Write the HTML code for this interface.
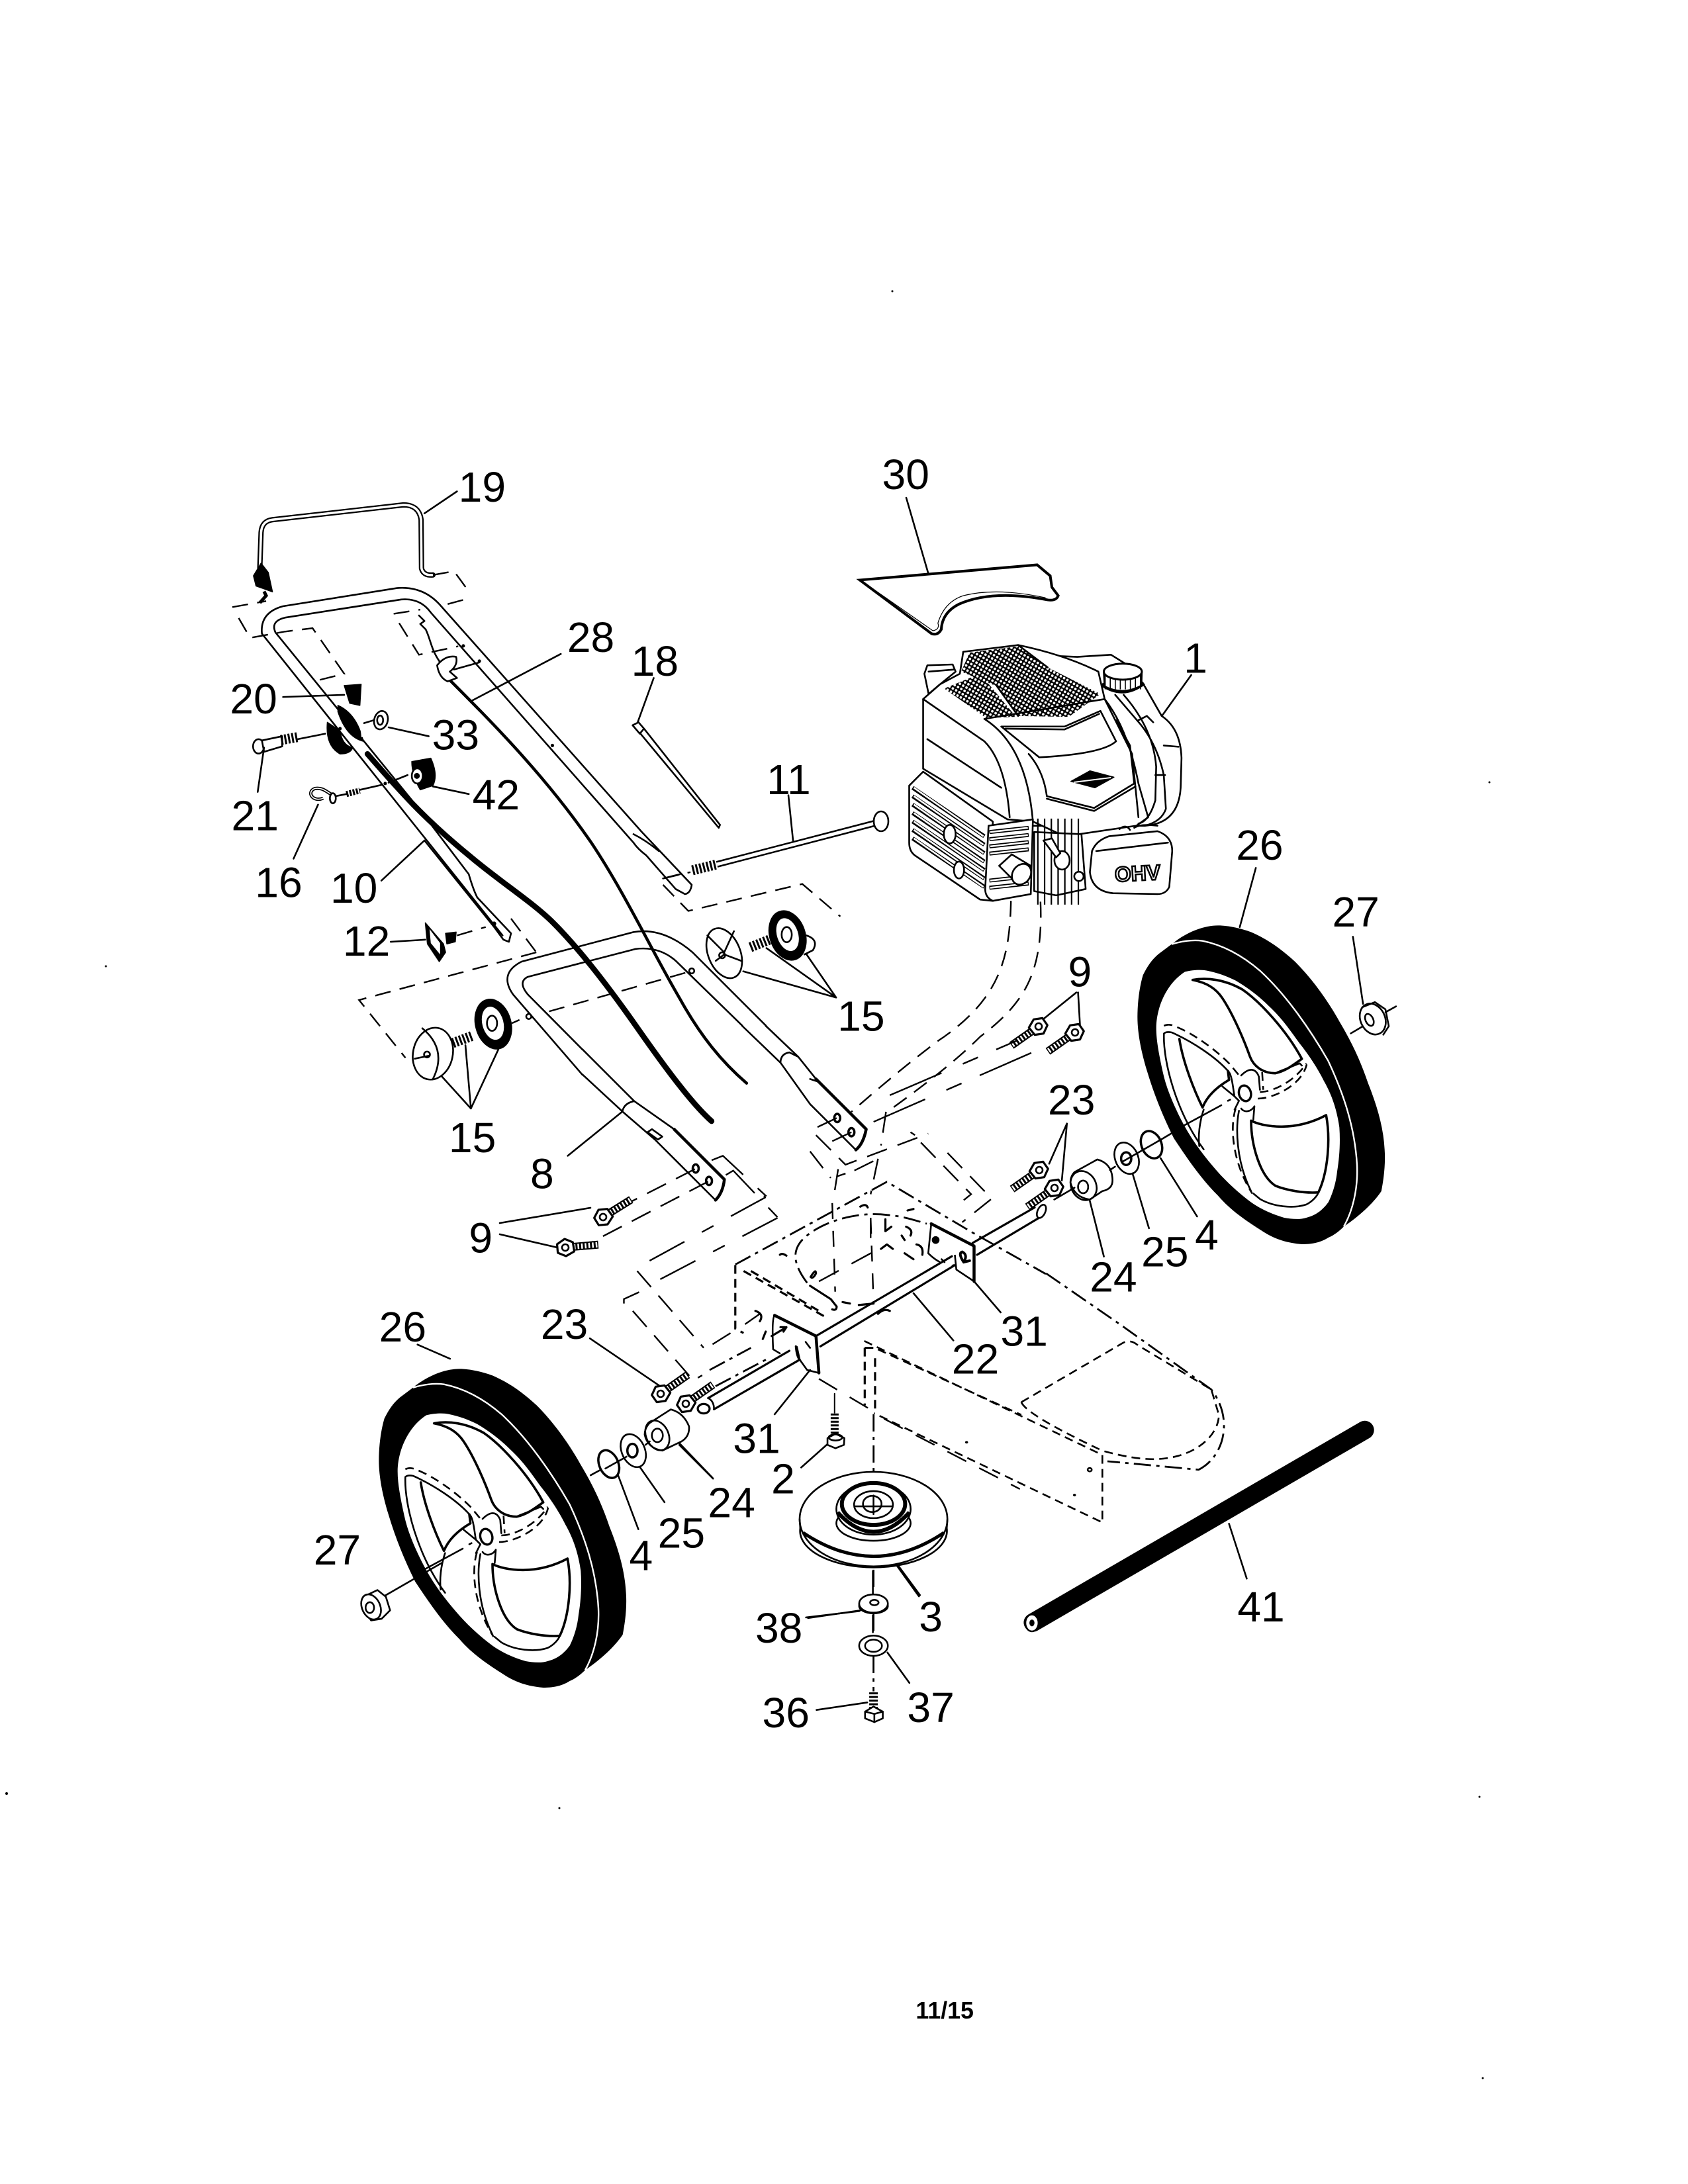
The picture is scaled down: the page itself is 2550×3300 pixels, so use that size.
<!DOCTYPE html>
<html><head><meta charset="utf-8"><title>Parts diagram</title>
<style>
html,body{margin:0;padding:0;background:#fff;width:2550px;height:3300px;overflow:hidden}
svg{display:block}
svg *{vector-effect:non-scaling-stroke}
.k{fill:none;stroke:#000;stroke-width:2.6;stroke-linecap:round;stroke-linejoin:round}
.w{fill:#fff;stroke:#000;stroke-width:2.6;stroke-linejoin:round}
.b{fill:#000;stroke:#000;stroke-width:1.5;stroke-linejoin:round}
.t{fill:none;stroke:#000;stroke-width:4.5;stroke-linecap:round;stroke-linejoin:round}
.d{fill:none;stroke:#000;stroke-width:2.4;stroke-dasharray:32 17}
.dd{fill:none;stroke:#000;stroke-width:2.8;stroke-dasharray:26 8 5 8}
.s{fill:none;stroke:#000;stroke-width:2.6;stroke-dasharray:13 8}
.lab{font-family:"Liberation Sans",Arial,sans-serif;font-size:30.5px;text-anchor:middle;fill:#000}
</style></head><body>
<svg xmlns="http://www.w3.org/2000/svg" width="2550" height="3300" viewBox="0 0 2550 3300">
<defs>
<pattern id="mesh" width="9" height="9" patternUnits="userSpaceOnUse" patternTransform="rotate(30)">
<rect width="9" height="9" fill="#000"/><circle cx="4.5" cy="4.5" r="3" fill="#fff"/></pattern>
<g id="bolt">
<line x1="12" y1="0" x2="50" y2="0" stroke="#000" stroke-width="12"/>
<line x1="13" y1="0" x2="50" y2="0" stroke="#fff" stroke-width="8" stroke-dasharray="2.5 3"/>
<polygon points="-12,-6 0,-13 12,-7 13,7 0,13 -12,7" class="w" style="stroke-width:3.2"/>
<circle r="5" class="k"/>
</g>
</defs>
<rect width="2550" height="3300" fill="#fff"/>

<!-- ===== A: upper handle region ===== -->
<g transform="translate(300,680) scale(.6378)">
<!-- bail 19 -->
<path d="M145,280 L148,195 Q150,168 175,165 L485,130 Q522,130 527,165 L528,280 Q532,298 555,296" fill="none" stroke="#000" stroke-width="8" stroke-linecap="round"/>
<path d="M145,280 L148,195 Q150,168 175,165 L485,130 Q522,130 527,165 L528,280 Q532,298 555,296" fill="none" stroke="#fff" stroke-width="3.5"/>
<polygon points="148,268 130,298 136,322 175,336 165,290" class="b"/>
<path d="M155,335 L160,345 L145,362" fill="none" stroke="#000" stroke-width="5"/>
<!-- dashed boxes -->
<path class="d" style="stroke-dasharray:24 14" d="M80,372 L160,358 M95,398 L122,445 L205,430 L270,422 L345,530 L285,545 M555,296 L605,287 L640,335 M590,365 L645,350 M462,388 L525,378 M475,410 L522,485 L615,465"/>
<path class="d" style="stroke-dasharray:24 14" d="M740,1110 L800,1190 M800,1190 L380,1303 L490,1440 M1100,1015 L1165,1000 M1100,1030 L1160,1092 L1430,1028 L1520,1105 M830,1330 L1165,1235"/>
<!-- upper handle tube -->
<path class="k" d="M720,1150 L150,435 Q145,385 200,370 L470,327 Q530,322 570,365 L1050,905 L1168,1030 Q1165,1050 1152,1052 L1130,1040 L1060,960 Q1040,945 1030,930 L550,385 Q525,350 480,354 L205,397 Q170,405 182,432 L530,860 L640,1005 Q650,1040 660,1060 L740,1145 L735,1165 L722,1160 L700,1130 L535,925"/>
<path class="k" d="M1030,910 Q1060,925 1090,950 M1100,1015 L1140,1005"/>
<circle cx="335" cy="660" r="4" fill="#000"/><circle cx="442" cy="790" r="4" fill="#000"/><circle cx="838" cy="700" r="4" fill="#000"/><circle cx="627" cy="464" r="4" fill="#000"/><circle cx="665" cy="500" r="4" fill="#000"/><circle cx="700" cy="1122" r="5" fill="#000"/>
<!-- thick cable -->
<path d="M400,720 C470,800 530,870 640,960 C710,1020 790,1070 840,1120 C900,1180 970,1270 1040,1370 C1110,1470 1170,1550 1215,1590" fill="none" stroke="#000" stroke-width="8.5" stroke-linecap="round"/>
<!-- cable 28 -->
<path d="M585,535 C690,640 820,770 930,930 C1010,1050 1070,1180 1140,1300 C1190,1390 1240,1450 1298,1500" fill="none" stroke="#000" stroke-width="4.5" stroke-linecap="round"/>
<path class="k" d="M522,392 L535,405 L525,412 L538,425 C550,450 550,470 570,500"/>
<path class="w" d="M565,510 Q585,485 610,490 Q615,510 595,525 L612,540 L590,548 Q570,540 565,510Z"/>
<path class="k" d="M605,520 L665,503"/>
<!-- 20 part -->
<polygon points="345,558 385,555 382,605 358,600" class="b"/>
<path class="b" d="M330,605 Q375,625 390,690 Q350,680 330,620Z"/>
<path d="M365,605 Q385,640 388,680" fill="none" stroke="#fff" stroke-width="3"/>
<path class="b" d="M305,645 Q300,700 335,720 Q360,720 365,705 Q340,700 335,665Z"/>
<!-- 33 nut -->
<ellipse cx="432" cy="640" rx="16" ry="22" class="w" transform="rotate(15 432 640)"/>
<ellipse cx="430" cy="640" rx="7" ry="11" class="k"/>
<path class="k" d="M392,647 L415,640"/>
<!-- 21 -->
<ellipse cx="142" cy="702" rx="13" ry="17" class="w"/>
<path class="w" d="M150,688 L198,678 L198,702 L155,715Z"/>
<path d="M195,687 L235,680" fill="none" stroke="#000" stroke-width="15" stroke-dasharray="3 2.5"/>
<path class="k" d="M235,685 L300,672"/>
<!-- 42 -->
<path class="b" d="M505,738 L550,730 Q568,770 555,795 L525,805 Q505,770 505,738Z"/>
<ellipse cx="518" cy="772" rx="13" ry="18" class="w"/>
<circle cx="517" cy="772" r="7" fill="#000"/>
<path class="k" d="M450,788 L495,770"/>
<!-- 16 -->
<path d="M295,825 C270,835 255,810 275,802 C295,798 305,812 322,820" fill="none" stroke="#000" stroke-width="5"/>
<path d="M295,825 C270,835 255,810 275,802 C295,798 305,812 322,820" fill="none" stroke="#fff" stroke-width="1.6"/>
<ellipse cx="318" cy="825" rx="7" ry="12" class="w"/>
<path class="k" d="M325,820 L350,815"/>
<path d="M350,815 L382,807" fill="none" stroke="#000" stroke-width="9" stroke-dasharray="3 2"/>
<path class="k" d="M382,805 L435,793"/>
<!-- 12 -->
<polygon points="537,1120 580,1170 585,1190 570,1212 542,1170" class="b"/>
<polygon points="547,1135 572,1168 572,1195 550,1168" fill="#fff"/>
<path class="b" d="M585,1145 L610,1142 L608,1165 L588,1170Z"/>
<path class="d" style="stroke-dasharray:24 14" d="M612,1150 L680,1130"/>
<!-- 18 zip tie -->
<path class="w" d="M1028,652 L1042,645 L1055,660 L1045,672Z"/>
<path class="k" d="M1045,670 L1232,895 L1235,888 L1055,660"/>
<!-- washers 15 upper -->
<ellipse cx="1245" cy="1192" rx="38" ry="62" class="w" transform="rotate(-22 1245 1192)"/>
<path class="k" d="M1245,1190 L1205,1150 M1245,1195 L1225,1210 M1245,1195 L1285,1210 M1245,1190 L1268,1140"/>
<circle cx="1240" cy="1197" r="7" class="k"/>
<path d="M1307,1178 L1352,1160" fill="none" stroke="#000" stroke-width="15" stroke-dasharray="3 2.5"/>
<path class="k" d="M1440,1150 Q1470,1160 1455,1185 L1435,1195"/>
<ellipse cx="1395" cy="1150" rx="42" ry="60" class="b" transform="rotate(-18 1395 1150)"/>
<ellipse cx="1395" cy="1148" rx="25" ry="40" fill="#fff" transform="rotate(-18 1395 1148)"/>
<ellipse cx="1393" cy="1148" rx="12" ry="18" class="k" stroke-width="3.5"/>
<!-- lower handle top -->
<path class="k" d="M909,1480 L745,1290 Q710,1240 765,1212 L1030,1142 Q1100,1130 1170,1190 L1344,1364"/>
<path class="k" d="M909,1420 L780,1290 Q755,1260 780,1248 L1035,1182 Q1090,1175 1130,1210 L1288,1364"/>
<circle cx="1168" cy="1234" r="6" class="k"/><circle cx="782" cy="1342" r="6" class="k"/>
<!-- washers 15 lower -->
<ellipse cx="555" cy="1430" rx="47" ry="62" class="w" transform="rotate(12 555 1430)"/>
<path class="k" d="M530,1370 Q590,1420 555,1490 M512,1442 L545,1435"/>
<circle cx="541" cy="1432" r="7" class="k"/>
<path d="M602,1405 L648,1388" fill="none" stroke="#000" stroke-width="15" stroke-dasharray="3 2.5"/>
<ellipse cx="698" cy="1360" rx="42" ry="60" class="b" transform="rotate(-15 698 1360)"/>
<ellipse cx="697" cy="1358" rx="25" ry="40" fill="#fff" transform="rotate(-15 697 1358)"/>
<ellipse cx="695" cy="1358" rx="12" ry="18" class="k" stroke-width="3.5"/>
<path class="d" style="stroke-dasharray:24 14" d="M742,1358 L760,1350"/>
<!-- leaders -->
<path class="k" d="M535,150 L612,98 M645,595 L858,483 M1040,645 L1078,540 M200,585 L345,580 M450,657 L545,678 M155,705 L140,810 M555,797 L640,815 M1408,925 L1397,818 M283,840 L225,968 M535,925 L433,1020 M455,1165 L537,1160 M1290,1235 L1510,1297 M1345,1180 L1510,1297 M1440,1195 L1510,1297 M577,1485 L645,1560 M632,1410 L645,1560 M710,1420 L645,1560"/>
</g>

<!-- rod 11 -->
<path d="M1046,1315 L1083,1306" fill="none" stroke="#000" stroke-width="15" stroke-dasharray="3 2.5"/>
<path d="M1083,1306 L1325,1243" fill="none" stroke="#000" stroke-width="10"/>
<path d="M1083,1306 L1325,1243" fill="none" stroke="#fff" stroke-width="5"/>
<ellipse cx="1331" cy="1241" rx="11" ry="15" class="w" stroke-width="4"/>

<!-- ===== B: engine region ===== -->
<g transform="translate(1200,680) scale(.6378)">
<!-- cover 30 -->
<path d="M155,308 L575,272 L606,298 L610,325 L625,345 Q620,358 600,355 Q470,330 390,365 Q350,385 348,425 Q340,440 325,435 Z" fill="none" stroke="#000" stroke-width="4"/>
<path d="M162,312 L328,428 Q345,425 340,410 Q355,360 400,345 Q480,325 595,350" fill="none" stroke="#000" stroke-width="1.2"/>
<!-- tank back -->
<path class="w" d="M670,490 L750,485 L790,510 L830,560 L870,630 Q915,660 917,730 L915,800 Q910,885 830,890 L560,890 L400,700 L400,478 Z"/>
<!-- filler left -->
<path class="w" d="M315,510 L375,508 L382,525 L345,555 L318,578 L308,530Z"/>
<path class="k" d="M318,525 L378,520"/>
<!-- shroud -->
<path class="w" d="M305,590 L345,555 L392,530 L400,478 L530,462 Q640,485 720,525 L735,590 Q790,660 815,790 L838,870 L810,890 L640,915 L565,880 L505,875 L305,755Z"/>
<polygon points="415,480 530,465 600,515 725,578 650,632 530,630 480,560 395,525" fill="url(#mesh)"/>
<polygon points="355,565 440,530 525,632 455,635" fill="url(#mesh)"/>
<path class="k" d="M305,590 L450,690 Q500,740 510,870 M315,685 L490,800 M450,637 Q550,700 565,880 M450,637 L735,590 L800,720 L815,870 M530,462 L600,515 M480,560 L530,630"/>
<path class="k" d="M490,655 L640,655 L725,618 L762,690 Q730,720 580,728 Z M500,660 L640,662 L722,625"/>
<path class="k" d="M555,720 Q590,760 598,820 L710,848 L805,790 L795,700 L762,640"/>
<path class="k" d="M598,826 L710,855 L808,797"/>
<polygon points="655,785 700,760 757,775 712,800" class="b"/>
<path d="M662,787 L750,776" stroke="#fff" stroke-width="2" fill="none"/>
<!-- tank -->
<path class="k" d="M760,580 L820,650 Q860,700 875,770 L880,850 Q870,880 830,890 M780,580 Q850,660 857,750 L855,830 Q840,880 815,885 M875,700 L910,703 M855,770 L878,770 M815,640 L835,630 L850,645"/>
<!-- cap -->
<path d="M728,555 Q778,590 828,552" fill="none" stroke="#000" stroke-width="6"/>
<path class="w" d="M733,528 L735,560 Q778,582 822,558 L823,525Z"/>
<path d="M735,545 L822,545" fill="none" stroke="#000" stroke-width="28" stroke-dasharray="1.6 6"/>
<ellipse cx="778" cy="525" rx="45" ry="19" class="w" style="stroke-width:3"/>
<!-- lower engine/fins -->
<path class="w" d="M568,905 L680,910 L690,1040 L620,1055 L568,1045Z"/>
<path d="M575,975 L680,975" fill="none" stroke="#000" stroke-width="130" stroke-dasharray="2.2 8"/>
<ellipse cx="634" cy="972" rx="18" ry="22" class="w"/>
<path class="w" d="M590,925 L610,920 L630,955 L620,965Z"/>
<circle cx="674" cy="1010" r="11" class="w"/>
<!-- OHV box -->
<path class="w" d="M705,950 Q715,925 745,915 L860,903 Q895,915 895,950 L888,1035 Q880,1052 860,1052 L755,1050 Q705,1045 700,1000Z"/>
<path class="k" d="M715,950 L885,930 M770,898 Q785,885 795,900 M805,895 Q820,885 860,890"/>
<text x="813" y="1020" font-family="'Liberation Sans',sans-serif" font-weight="bold" font-size="50" text-anchor="middle" fill="#fff" stroke="#000" stroke-width="2.5" transform="rotate(-3 813 1005)">OHV</text>
<!-- muffler -->
<path class="w" d="M272,795 L305,762 L470,880 L470,1068 L440,1065 L285,960 Q272,950 272,930Z"/>
<path d="M280,800 L450,915 M280,820 L450,935 M280,840 L450,955 M280,860 L450,975 M280,880 L450,995 M280,900 L450,1015 M280,920 L450,1035" fill="none" stroke="#000" stroke-width="6"/>
<path d="M283,800 L448,915 M283,820 L448,935 M283,840 L448,955 M283,860 L448,975 M283,880 L448,995 M283,900 L448,1015 M283,920 L448,1035" fill="none" stroke="#fff" stroke-width="2.6"/>
<ellipse cx="368" cy="910" rx="14" ry="22" class="w"/><ellipse cx="390" cy="995" rx="12" ry="20" class="w"/>
<path class="w" d="M460,890 L565,875 L560,1052 L470,1068 Q452,1060 452,1040Z"/>
<path d="M462,905 L555,895 M462,922 L555,912 M462,939 L555,929 M462,956 L555,946 M462,1020 L555,1010 M462,1037 L555,1027" fill="none" stroke="#000" stroke-width="6"/>
<path d="M464,905 L553,895 M464,922 L553,912 M464,939 L553,929 M464,956 L553,946 M464,1020 L553,1010 M464,1037 L553,1027" fill="none" stroke="#fff" stroke-width="2.6"/>
<path class="w" d="M485,985 L515,958 L560,985 L530,1030 Z"/>
<ellipse cx="538" cy="1005" rx="21" ry="26" class="w" transform="rotate(35 538 1005)" stroke-width="4"/>
<!-- dashed to deck -->
<path class="d" style="stroke-dasharray:24 14" d="M513,1068 C510,1200 490,1300 340,1400 C260,1460 190,1520 135,1568"/>
<path class="d" style="stroke-dasharray:24 14" d="M583,1070 C590,1240 545,1310 440,1390 C380,1450 300,1510 220,1568"/>
<!-- leaders -->
<path class="k" d="M265,113 L318,295 M872,628 L940,533 M1055,1130 L1093,990 M1347,1312 L1323,1153 M565,1368 L668,1285 M677,1370 L672,1285"/>
<path class="k" d="M1318,1382 L1345,1366 M1400,1332 L1425,1318"/>
<ellipse cx="1370" cy="1348" rx="29" ry="38" class="w" stroke-width="4" transform="rotate(-25 1370 1348)"/>
<path class="k" d="M1345,1320 L1375,1308 L1400,1325 L1408,1365 L1395,1385"/>
<ellipse cx="1362" cy="1350" rx="9" ry="15" class="k" stroke-width="4" transform="rotate(-25 1362 1350)"/>
</g>
<use href="#bolt" transform="translate(1569,1551) rotate(145)"/>
<use href="#bolt" transform="translate(1624,1560) rotate(145)"/>

<!-- ===== Z: center deck, axle, dashes ===== -->
<g transform="translate(880,1550) scale(.4464)">
<!-- left handle end -->
<path class="k" d="M0,80 L175,255 L310,350 M245,385 L135,290 L0,165 M135,290 Q140,262 175,255 M220,360 L235,350 L270,375 L255,385Z M245,385 L450,590"/>
<path class="t" d="M310,350 L480,520 Q475,565 450,590"/>
<ellipse cx="383" cy="483" rx="10" ry="14" class="k" style="stroke-width:3.5"/><ellipse cx="428" cy="525" rx="10" ry="14" class="k" style="stroke-width:3.5"/>
<!-- right handle end -->
<path class="k" d="M540,0 L670,125 L770,265 L925,420 M620,0 L730,105 L790,180 M670,125 Q670,95 700,90 L730,105 M770,180 L800,190"/>
<path class="t" d="M790,180 L960,350 Q950,400 925,420"/>
<ellipse cx="862" cy="312" rx="10" ry="14" class="k" style="stroke-width:3.5"/><ellipse cx="910" cy="360" rx="10" ry="14" class="k" style="stroke-width:3.5"/>
<!-- through-hole dashes -->
<path class="d" d="M380,485 L145,605 M425,527 L35,730"/>
<path class="d" d="M860,312 L780,350 M910,360 L825,400"/>
<path class="d" style="stroke-dasharray:60 30 20 30" d="M437,455 L475,440 L620,575 L585,592 M485,505 L510,490 L660,648 L630,665 M620,580 L200,810 M660,650 L240,870"/>
<path class="d" d="M185,830 L410,1090 M140,940 L140,925 L210,893 M170,965 L375,1200 L405,1183 M440,1078 L520,1028 M550,1010 L600,975"/>
<path class="dd" d="M430,1165 L570,1090 M450,1220 L630,1125"/>
<!-- upper right dashes -->
<path class="d" style="stroke-dasharray:85 35 25 30" d="M1040,235 L1470,50 M985,325 L1568,70"/>
<path class="d" d="M770,425 L840,515 M790,370 L890,470 L1170,365 M920,490 L1000,450 M860,510 L890,500"/>
<path class="d" d="M1027,291 L1010,405 M1000,450 L975,570 M865,485 L850,580"/>
<path class="d" d="M1145,395 L1315,570 L1290,590 M1235,430 L1385,585 L1285,665 M1110,360 L1125,370"/>
<!-- deck -->
<path class="dd" d="M517,808 L1030,528 L1210,635 L1320,700 L1568,840"/>
<path class="s" style="stroke-width:3.2" d="M517,810 L517,1025 L545,1040 M545,830 L830,990 M570,830 L800,965 M955,1090 L955,1285 M990,1125 L990,1310 M955,1090 L1000,1090"/>
<path class="d" style="stroke-dasharray:32 22" d="M800,1195 L985,1305 M1020,1330 L1480,1568"/>
<path class="d" style="stroke-dasharray:24 18" d="M845,600 L855,900 M975,650 L985,940"/>
<path class="dd" d="M760,870 C700,790 710,740 780,695 C850,650 950,630 1030,640 C1090,645 1130,660 1165,670"/>
<path class="d" style="stroke-dasharray:34 22" d="M800,865 L975,770 L975,650"/>
<path class="k" style="stroke-width:3.2" d="M1010,755 L1030,740 L1050,755 M1090,770 L1120,790 M770,880 L840,925 L860,950 Q860,965 845,960 M880,935 L905,940 M935,945 L985,940 M668,775 Q675,768 690,778 M772,850 Q790,820 790,838 Q780,858 772,850 M940,612 Q960,600 965,615 M1100,625 L1120,620 M1025,655 L1025,695 L1045,680 M1095,680 Q1120,690 1110,710 M1130,740 Q1155,745 1150,775 M1080,710 L1090,725 M585,965 Q615,975 600,1000 M620,1035 L610,1060 M640,1050 L690,1020 L680,1035 M685,1020 L670,1020 M1000,975 Q1020,955 1040,965"/>
<!-- axle -->
<path class="k" style="stroke-width:3.2" d="M790,1050 L1250,780 M805,1085 L1260,810 M1320,735 L1530,615 M1335,775 L1545,650 M425,1260 L700,1100 M445,1298 L735,1130 Q725,1120 722,1085"/>
<ellipse cx="1553" cy="628" rx="13" ry="24" transform="rotate(25 1553 628)" class="w"/>
<ellipse cx="410" cy="1296" rx="20" ry="16" class="w" style="stroke-width:3.2"/>
<path class="k" d="M425,1260 Q445,1270 445,1298"/>
<!-- brackets -->
<path class="w" style="fill:none" d="M650,980 Q640,990 645,1095 L670,1110 M725,1085 L735,1130 L760,1165 L800,1175"/>
<path class="t" d="M650,980 L790,1050 L800,1175"/>
<path class="w" style="fill:none" d="M1180,670 L1170,770 Q1190,790 1210,800 M1260,775 L1265,825 L1325,865"/>
<path class="t" d="M1180,670 L1325,745 L1325,865"/>
<circle cx="1195" cy="725" r="13" fill="#000"/>
<path class="k" style="stroke-width:4" d="M1290,800 Q1270,770 1285,765 Q1305,775 1290,800 L1310,795"/>
<path class="k" d="M755,1070 L770,1090 M1215,790 L1225,800 M1245,820 L1255,810"/>
<!-- leaders -->
<path class="k" d="M770,1165 L650,1315 M1325,865 L1415,970 M1120,905 L1255,1065 M25,1058 L270,1225 M740,1495 L830,1415 M325,1410 L440,1530 M-50,440 L135,290"/>
<path class="dd" d="M985,1315 L985,1515"/>
<path class="k" style="stroke-width:2" d="M853,1245 L853,1310"/>
</g>

<!-- ===== C: deck right, tube, right hardware ===== -->
<g transform="translate(900,1500) scale(.7653,.6378)">
<path class="dd" d="M889,665 L1040,790 L1215,940 C1260,1010 1240,1100 1190,1130 L1010,1110"/>
<path class="s" d="M530,825 L1000,1095 L1000,1255 L549,996 M557,845 L840,1000 M840,970 L1040,830 Q1055,820 1070,835 L1215,940 M840,970 Q850,1000 1000,1085 Q1060,1105 1100,1105 C1180,1105 1230,1050 1230,1000 L1215,940"/>
<circle cx="975" cy="1130" r="4" class="k"/><circle cx="732" cy="1065" r="3" fill="#000"/><circle cx="945" cy="1190" r="3" fill="#000"/>
<!-- right spacer 24 -->
<path class="w" d="M945,425 L990,395 Q1020,405 1020,445 Q1020,465 1000,470 L975,490 Q945,485 937,450 Q937,435 945,425Z"/>
<ellipse cx="963" cy="457" rx="25" ry="35" class="k" transform="rotate(-15 963 457)"/>
<ellipse cx="962" cy="460" rx="10" ry="15" class="k"/>
<!-- washer 25 right -->
<ellipse cx="1048" cy="392" rx="23" ry="38" class="w" stroke-width="4" transform="rotate(-15 1048 392)"/>
<ellipse cx="1047" cy="393" rx="10" ry="15" class="k" style="stroke-width:3.5"/>
<!-- ring 4 right -->
<ellipse cx="1097" cy="360" rx="20" ry="33" class="k" style="stroke-width:3.5" transform="rotate(-15 1097 360)"/>
<path class="k" d="M1015,420 L1025,412 M1040,400 L1120,345 L1240,258 M905,490 L945,462"/>
<!-- 41 tube -->
<path d="M863,1492 L1518,1036" fill="none" stroke="#000" stroke-width="28" stroke-linecap="round"/>
<ellipse cx="861" cy="1493" rx="13" ry="20" class="w" stroke-width="4"/>
<ellipse cx="861" cy="1493" rx="5" ry="8" fill="#000"/>
<!-- leaders -->
<path class="k" d="M895,405 L930,310 M920,445 L930,310 M975,492 L1003,625 M1060,430 L1092,558 M1115,392 L1187,530 M1250,1258 L1285,1388 M590,1350 L638,1430 M520,1465 L415,1480 M547,1370 L547,1425 M547,1475 L547,1515"/>
</g>
<use href="#bolt" transform="translate(1570,1768) rotate(145)"/>
<use href="#bolt" transform="translate(1593,1795) rotate(145)"/>
<use href="#bolt" transform="translate(911,1839) rotate(-32)"/>
<use href="#bolt" transform="translate(854,1885) rotate(-5)"/>
<path class="k" d="M755,1848 L892,1825 M755,1865 L842,1885"/>

<!-- ===== wheels ===== -->
<g id="wheel" transform="translate(1690,1370) scale(.33333)">
<path fill="#000" d="M240,170 C300,120 380,85 450,85 C500,85 560,100 600,115 C680,150 740,195 800,250 C880,330 950,430 1000,520 C1060,620 1100,710 1130,800 C1170,900 1200,1000 1205,1100 C1210,1170 1200,1240 1190,1290 C1150,1350 1080,1410 1020,1450 C1000,1470 975,1490 950,1500 C910,1525 870,1530 830,1530 C770,1525 710,1510 650,1470 C580,1425 510,1380 450,1310 C370,1230 310,1140 250,1050 C200,950 160,850 130,750 C105,670 85,580 85,500 C85,430 95,360 110,310 C130,270 150,240 180,215 Z"/>
<path fill="none" stroke="#fff" stroke-width="2.4" d="M240,170 C290,155 340,150 380,155 C480,175 570,230 640,290 C760,400 870,560 950,700 C1020,850 1070,1000 1080,1170 C1085,1280 1060,1380 1020,1450"/>
<path fill="#fff" d="M170,550 C170,460 215,350 300,295 C340,285 380,285 400,290 C450,300 490,315 530,335 C590,370 640,410 680,450 C740,505 780,565 820,620 C860,670 900,730 930,790 C970,860 990,930 1000,1000 C1005,1070 1000,1140 990,1200 C985,1250 970,1300 950,1340 C920,1380 890,1400 850,1410 C820,1420 780,1415 750,1410 C700,1395 650,1375 600,1340 C540,1295 480,1240 430,1180 C370,1110 320,1040 280,960 C245,890 215,820 200,750 C185,680 170,610 170,550Z"/>
<g class="t" style="stroke-width:3.6">
<path d="M335,332 C400,320 480,330 560,375 C640,430 760,560 830,690 C800,710 760,745 710,755 C650,755 610,720 595,680 C570,610 520,490 470,415 C440,370 400,345 335,332Z"/>
<path d="M275,600 C290,700 340,830 380,910 C400,860 440,820 500,785 L495,745"/>
<path d="M600,970 C660,1000 800,1020 940,945 C960,1050 950,1200 905,1295 C840,1300 760,1285 710,1265 C640,1220 600,1080 600,970Z"/>
</g>
<path class="k" d="M205,575 C200,700 260,930 385,1100 M365,1085 C360,1040 365,980 385,920 M205,575 Q215,565 240,570 C330,610 440,680 500,750 C515,770 520,840 525,860 M610,1300 L640,1325 C700,1360 790,1370 850,1350 C880,1335 900,1310 905,1295 M545,925 C530,1000 530,1150 600,1290 M720,750 L820,710 L830,720 M555,765 C590,730 620,730 635,770 L640,830 M555,915 C570,935 600,930 615,905 L610,965 M470,815 L525,860 M525,860 L545,880 L525,920"/>
<path class="s" d="M205,540 Q225,530 250,540 C330,570 430,640 500,710 L550,770 M530,915 C505,990 510,1150 605,1300 M640,840 C700,840 800,790 850,710 M630,870 C700,870 830,810 852,715 M650,750 L655,830"/>
<ellipse cx="572" cy="846" rx="27" ry="36" transform="rotate(-15 572 846)" class="w" style="stroke-width:3.4"/>
<path class="k" d="M465,900 L290,995 M505,875 L495,880"/>
</g>
<use href="#wheel" transform="translate(-1146,670)"/>

<!-- ===== D: left hardware ===== -->
<g transform="translate(500,1900) scale(.6378,.5102)">
<path class="k" d="M130,1000 L262,905 M205,258 L282,300 M825,555 L905,655 M730,618 L790,725 M680,645 L728,805 M1345,915 L1395,1000 M1255,1045 L1130,1068 M1318,1170 L1370,1260 M1270,1318 L1150,1340"/>
<!-- nut 27 -->
<path class="w" d="M85,1000 L110,985 L130,1005 L140,1045 L120,1070 L95,1075 L72,1030Z" stroke-width="3"/>
<ellipse cx="95" cy="1035" rx="22" ry="38" class="w" stroke-width="3.5" transform="rotate(-15 95 1035)"/>
<ellipse cx="92" cy="1037" rx="10" ry="16" class="k" stroke-width="4"/>
<!-- left spacer 24 -->
<path class="w" d="M755,490 L805,450 Q835,460 848,500 Q850,530 830,545 L785,572 Q750,565 743,525 Q743,505 755,490Z"/>
<ellipse cx="773" cy="527" rx="27" ry="45" class="k" transform="rotate(-15 773 527)"/>
<ellipse cx="773" cy="527" rx="13" ry="20" class="k"/>
<!-- washer 25 left -->
<ellipse cx="716" cy="572" rx="28" ry="50" class="w" stroke-width="4" transform="rotate(-15 716 572)"/>
<ellipse cx="714" cy="572" rx="12" ry="20" class="k" style="stroke-width:3.5"/>
<!-- ring 4 left -->
<ellipse cx="658" cy="612" rx="23" ry="42" class="k" style="stroke-width:3.5" transform="rotate(-15 658 612)"/>
<path class="k" d="M615,645 L640,628 M650,625 L700,590 M745,555 L755,545"/>
<!-- bolt 2 -->
<path d="M1193,462 L1193,525" fill="none" stroke="#000" stroke-width="12" stroke-dasharray="3 2.5"/>
<path class="w" d="M1176,535 L1195,522 L1216,535 L1215,555 L1195,565 L1176,555Z"/>
<ellipse cx="1195" cy="533" rx="16" ry="9" class="k"/>
<!-- pulley 3 -->
<ellipse cx="1285" cy="810" rx="174" ry="108" class="w"/>
<ellipse cx="1285" cy="775" rx="175" ry="140" class="w"/>
<path class="k" d="M1110,775 L1112,810 M1460,775 L1458,810"/>
<path d="M1118,815 Q1285,955 1452,815" fill="none" stroke="#000" stroke-width="5"/>
<ellipse cx="1285" cy="775" rx="88" ry="52" class="k" transform="translate(0,12)"/>
<ellipse cx="1285" cy="745" rx="88" ry="76" class="w"/>
<path d="M1200,755 Q1285,870 1370,755" fill="none" stroke="#000" stroke-width="6"/>
<ellipse cx="1285" cy="730" rx="75" ry="62" fill="none" stroke="#000" stroke-width="6"/>
<ellipse cx="1285" cy="732" rx="46" ry="40" class="k"/>
<ellipse cx="1282" cy="730" rx="22" ry="24" class="k" stroke-width="4"/>
<path class="k" d="M1240,737 L1330,737 M1285,705 L1285,760"/>
<path class="dd" d="M1285,1040 L1285,636 M1285,925 L1285,990 M1285,1055 L1285,1115 M1285,1180 L1285,1285" style="stroke-dasharray:none;display:none"/>
<path class="dd" d="M1285,925 L1285,990 M1285,1055 L1285,1115 M1285,1180 L1285,1285"/>
<!-- washer 38 -->
<ellipse cx="1285" cy="1032" rx="34" ry="22" class="k"/>
<ellipse cx="1285" cy="1025" rx="34" ry="27" class="w"/>
<ellipse cx="1287" cy="1022" rx="10" ry="8" class="k"/>
<!-- circlip 37 -->
<ellipse cx="1285" cy="1150" rx="34" ry="30" fill="none" stroke="#000" stroke-width="2.5"/>
<ellipse cx="1285" cy="1150" rx="20" ry="18" fill="#fff" stroke="#000" stroke-width="2.5"/>
<!-- bolt 36 -->
<path d="M1285,1288 L1285,1335" fill="none" stroke="#000" stroke-width="13" stroke-dasharray="3 2.5"/>
<path class="w" d="M1265,1345 L1285,1330 L1307,1345 L1307,1365 L1287,1376 L1265,1365Z"/>
<path class="k" d="M1265,1345 L1287,1352 L1307,1345 M1287,1352 L1287,1376"/>
</g>
<use href="#bolt" transform="translate(998,2106) rotate(-35)"/>
<use href="#bolt" transform="translate(1036,2121) rotate(-35)"/>

<!-- specks -->
<g fill="#000"><circle cx="1348" cy="440" r="1.5"/><circle cx="2250" cy="1182" r="1.5"/><circle cx="160" cy="1460" r="1.5"/><circle cx="10" cy="2710" r="2"/><circle cx="845" cy="2732" r="1.5"/><circle cx="2235" cy="2715" r="1.5"/><circle cx="2240" cy="3140" r="1.5"/></g>

<!-- ===== labels ===== -->
<g transform="scale(2.105)">
<text class="lab" x="346" y="360">19</text>
<text class="lab" x="650" y="351">30</text>
<text class="lab" x="858" y="483">1</text>
<text class="lab" x="424" y="468">28</text>
<text class="lab" x="470" y="485">18</text>
<text class="lab" x="182" y="512">20</text>
<text class="lab" x="327" y="538">33</text>
<text class="lab" x="183" y="596">21</text>
<text class="lab" x="356" y="581">42</text>
<text class="lab" x="566" y="570">11</text>
<text class="lab" x="200" y="644">16</text>
<text class="lab" x="254" y="648">10</text>
<text class="lab" x="904" y="617">26</text>
<text class="lab" x="973" y="665">27</text>
<text class="lab" x="263" y="686">12</text>
<text class="lab" x="618" y="740">15</text>
<text class="lab" x="775" y="708">9</text>
<text class="lab" x="339" y="827">15</text>
<text class="lab" x="389" y="853">8</text>
<text class="lab" x="769" y="800">23</text>
<text class="lab" x="866" y="897">4</text>
<text class="lab" x="836" y="909">25</text>
<text class="lab" x="799" y="927">24</text>
<text class="lab" x="345" y="899">9</text>
<text class="lab" x="735" y="966">31</text>
<text class="lab" x="700" y="986">22</text>
<text class="lab" x="289" y="963">26</text>
<text class="lab" x="405" y="961">23</text>
<text class="lab" x="543" y="1043">31</text>
<text class="lab" x="562" y="1072">2</text>
<text class="lab" x="525" y="1089">24</text>
<text class="lab" x="489" y="1111">25</text>
<text class="lab" x="460" y="1127">4</text>
<text class="lab" x="242" y="1123">27</text>
<text class="lab" x="559" y="1179">38</text>
<text class="lab" x="668" y="1171">3</text>
<text class="lab" x="905" y="1164">41</text>
<text class="lab" x="668" y="1236">37</text>
<text class="lab" x="564" y="1240">36</text>
<text x="678" y="1449" font-family="'Liberation Sans',Arial,sans-serif" font-weight="bold" font-size="17" text-anchor="middle">11/15</text>
</g>
</svg>
</body></html>
